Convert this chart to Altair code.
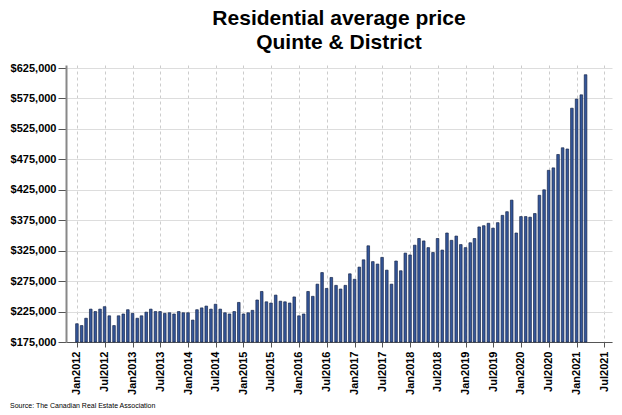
import altair as alt
import pandas as pd

# Average residential price by month (Jan 2012 - Mar 2021)
p2012 = [205000, 202000, 214000, 229000, 225000, 229000, 233000, 218000, 202000, 218000, 221000, 228000]
p2013 = [222000, 214000, 218000, 224000, 229000, 225000, 225000, 222000, 223000, 221000, 225000, 223000]
p2014 = [223000, 211000, 228000, 231000, 234000, 229000, 237000, 229000, 223000, 221000, 225000, 240000]
p2015 = [221000, 223000, 227000, 244000, 258000, 241000, 239000, 252000, 242000, 241000, 239000, 249000]
p2016 = [218000, 221000, 258000, 250000, 270000, 289000, 263000, 281000, 268000, 262000, 268000, 287000]
p2017 = [278000, 298000, 310000, 333000, 307000, 303000, 314000, 293000, 270000, 308000, 292000, 321000]
p2018 = [318000, 334000, 345000, 341000, 330000, 322000, 345000, 326000, 354000, 342000, 349000, 335000]
p2019 = [330000, 338000, 345000, 364000, 366000, 370000, 362000, 371000, 383000, 389000, 408000, 354000]
p2020 = [381000, 381000, 380000, 386000, 416000, 425000, 457000, 461000, 483000, 494000, 492000, 559000]
p2021 = [574000, 581000, 614000]

years = [2012, 2013, 2014, 2015, 2016, 2017, 2018, 2019, 2020, 2021]
series = [p2012, p2013, p2014, p2015, p2016, p2017, p2018, p2019, p2020, p2021]

y_ticks = [175000, 225000, 275000, 325000, 375000, 425000, 475000, 525000, 575000, 625000]
y_base = 175000
x_tick_months = [(y, m) for y in range(2012, 2022) for m in (1, 7)]

rows = []
for yr, vals in zip(years, series):
    for i, v in enumerate(vals):
        rows.append({"date": f"{yr}/{i + 1:02d}/01", "price": v})
df = pd.DataFrame(rows)

FONT = "Liberation Sans"
W, H = 546, 277

x_enc = alt.X(
    "date:T",
    scale=alt.Scale(domain=[alt.DateTime(year=2011, month=11, date=23),
                            alt.DateTime(year=2021, month=7, date=20)]),
    axis=alt.Axis(
        title=None,
        values=[alt.DateTime(year=y, month=m, date=1) for y, m in x_tick_months],
        format="%b%Y",
        labelAngle=-90,
        labelFont=FONT, labelFontSize=11, labelFontWeight="bold", labelColor="black",
        labelPadding=4, tickSize=5, tickColor="#555555", domainColor="#555555",
        grid=True, gridDash=[3, 3], gridColor="#cccccc", gridWidth=1,
        labelOverlap=False, labelFlush=False,
    ),
)
y_enc = alt.Y(
    "price:Q",
    scale=alt.Scale(domain=[175000, 630000], nice=False, zero=False),
    axis=alt.Axis(
        title=None, values=y_ticks, format="$,.0f",
        labelFont=FONT, labelFontSize=11, labelFontWeight="bold", labelColor="black",
        labelPadding=2, tickSize=8, tickColor="#555555", domainColor="#888888", domainWidth=2,
        grid=True, gridColor="#dddddd", gridWidth=1,
    ),
)

bars = alt.Chart(df).mark_bar(
    width=2.6, fill="#34569a", stroke="#17264a", strokeWidth=0.7
).encode(x=x_enc, y=y_enc, y2=alt.datum(y_base))

source = alt.Chart(pd.DataFrame({"t": ["Source: The Canadian Real Estate Association"]})).mark_text(
    align="left", baseline="alphabetic", font=FONT, fontSize=7, color="black"
).encode(x=alt.value(-56), y=alt.value(343), text="t:N")

chart = alt.layer(bars, source).properties(
    width=W, height=H,
    title=alt.TitleParams(
        text=["Residential average price", "Quinte & District"],
        font=FONT, fontSize=21, fontWeight="bold", color="black",
        lineHeight=24, offset=9, anchor="middle",
    ),
    autosize=alt.AutoSizeParams(type="none"),
    padding={"left": 58, "top": 57, "right": 2, "bottom": 66},
    background="white",
).configure_view(stroke=None)

chart.save("out.html", embed_options={"renderer": "svg", "actions": False})
